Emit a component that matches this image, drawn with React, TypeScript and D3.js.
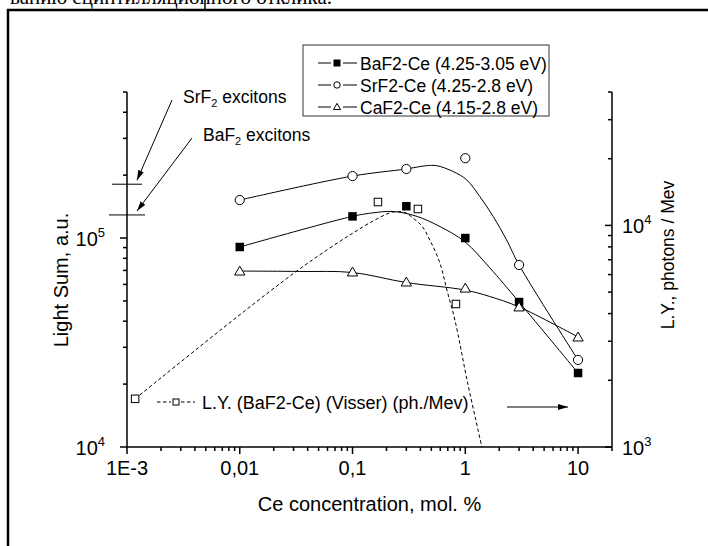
import React from "react";
import * as d3 from "d3";

// measured Ce concentrations, mol. %
const conc = [0.01, 0.1, 0.3, 1, 3, 10];
// light sum, a.u. (left axis)
const baf2Sum = [9.06e4, 1.27e5, 1.42e5, 1.0e5, 4.94e4, 2.26e4];
const srf2Sum = [1.52e5, 1.98e5, 2.14e5, 2.41e5, 7.43e4, 2.61e4];
const caf2Sum = [6.95e4, 6.88e4, 6.16e4, 5.76e4, 4.68e4, 3.36e4];

// smoothed curves drawn through the points
const baf2FitConc = [0.01, 0.1, 0.152, 0.228, 0.372, 0.596, 0.991, 1.65, 3, 10];
const baf2FitSum = [9.06e4, 1.27e5, 1.32e5, 1.34e5, 1.27e5, 1.135e5, 9.6e4, 7.2e4, 4.94e4, 2.26e4];
const srf2FitConc = [0.01, 0.1, 0.297, 0.454, 0.557, 0.782, 1.028, 1.346, 1.766, 2.323, 3, 10];
const srf2FitSum = [1.52e5, 1.98e5, 2.14e5, 2.22e5, 2.22e5, 2.08e5, 1.9e5, 1.58e5, 1.27e5, 9.8e4, 7.43e4, 2.61e4];
const caf2FitConc = [0.01, 0.034, 0.1, 0.297, 0.991, 1.65, 3, 10];
const caf2FitSum = [6.95e4, 6.92e4, 6.84e4, 6.13e4, 5.64e4, 5.25e4, 4.68e4, 3.36e4];

// Visser light yield, photons / MeV (right axis)
const visserConc = [0.00118, 0.168, 0.38, 0.826];
const visserLY = [1650, 12750, 11860, 4420];
const visserFitConc = [0.00118, 0.00944, 0.0321, 0.0593, 0.101, 0.158, 0.228, 0.292, 0.343, 0.412, 0.485, 0.595, 0.687, 0.809, 1.055, 1.403];
const visserFitLY = [1650, 3860, 6230, 7750, 9240, 10580, 11490, 11430, 10800, 9940, 8590, 6765, 5110, 3740, 1920, 1000];

// exciton light sums marked on the left axis
const excitonNames = ["SrF", "BaF"];
const excitonSum = [1.81e5, 1.29e5];

const xTickLabels = ["1E-3", "0,01", "0,1", "1", "10"];
const legendNames = ["BaF2-Ce (4.25-3.05 eV)", "SrF2-Ce (4.25-2.8 eV)", "CaF2-Ce (4.15-2.8 eV)"];

const FONT = "'Liberation Sans', Arial, sans-serif";

const x = d3.scaleLog().domain([0.001, 20]).range([127, 612]);
const yL = d3.scaleLog().domain([1e4, 5e5]).range([447, 92]);
const yR = d3.scaleLog().domain([1e3, 4e4]).range([447, 92]);

const isDecade = (v: number) => Math.abs(Math.log10(v) - Math.round(Math.log10(v))) < 1e-6;

const fitLine = (ys: any) =>
  d3
    .line<[number, number]>()
    .x((d) => x(d[0]))
    .y((d) => ys(d[1]))
    .curve(d3.curveCatmullRom.alpha(0.5));

const zip = (a: number[], b: number[]) => a.map((v, i) => [v, b[i]] as [number, number]);

const triPath = d3.symbol(d3.symbolTriangle, 46)();
const triSmall = d3.symbol(d3.symbolTriangle, 22)();

const Marker = ({ kind, cx, cy, small }: { kind: string; cx: number; cy: number; small?: boolean }) => {
  const s = small ? 7 : 8.5;
  if (kind === "fsq")
    return <rect x={cx - s / 2} y={cy - s / 2} width={s} height={s} fill="#000" />;
  if (kind === "osq")
    return <rect x={cx - s / 2 + 0.5} y={cy - s / 2 + 0.5} width={s - 1} height={s - 1} fill="#fff" stroke="#000" strokeWidth={1} />;
  if (kind === "circ")
    return <circle cx={cx} cy={cy} r={small ? 3.2 : 4.6} fill="#fff" stroke="#000" strokeWidth={1} />;
  return <path d={(small ? triSmall : triPath) as string} transform={`translate(${cx},${cy + (small ? 0.5 : 1)})`} fill="#fff" stroke="#000" strokeWidth={1} />;
};

const Pow = ({ px, py, base, exp, anchor }: { px: number; py: number; base: string; exp: string; anchor: string }) => (
  <text x={px} y={py} textAnchor={anchor} fontSize={20} fontFamily={FONT}>
    {base}
    <tspan fontSize={13} dy={-9}>{exp}</tspan>
  </text>
);

export default function App() {
  const series = [
    { kind: "fsq", vals: baf2Sum, fit: zip(baf2FitConc, baf2FitSum) },
    { kind: "circ", vals: srf2Sum, fit: zip(srf2FitConc, srf2FitSum) },
    { kind: "tri", vals: caf2Sum, fit: zip(caf2FitConc, caf2FitSum) },
  ];
  const x0 = x.range()[0], x1 = x.range()[1];
  const yb = yL.range()[0], yt = yL.range()[1];
  const xTicks = x.ticks().filter((t) => t <= 20);
  const lTicks = yL.ticks();
  const rTicks = yR.ticks();
  const xMajors = xTicks.filter(isDecade);

  return (
    <svg width={708} height={546} style={{ position: "absolute", left: 0, top: 0, background: "#fff" }}>
      <defs>
        <marker id="ah" viewBox="0 0 10 6" refX={10} refY={3} markerWidth={10} markerHeight={6} markerUnits="userSpaceOnUse" orient="auto">
          <path d="M0,0 L10,3 L0,6 Z" fill="#000" />
        </marker>
      </defs>
      <rect width={708} height={546} fill="#fff" />

      {/* page fragment above the figure, cropped as in the source */}
      <text x={10} y={4} fontFamily="'Liberation Serif', 'Times New Roman', serif" fontSize={21}>
        ванию сцинтилляционного отклика.
      </text>
      <line x1={205} y1={0} x2={205} y2={10} stroke="#000" strokeWidth={1.5} />
      <path d="M8,546 L8,10 L708,10" fill="none" stroke="#000" strokeWidth={2.5} />

      {/* fitted / guide curves */}
      {series.map((s, i) => (
        <path key={"f" + i} d={fitLine(yL)(s.fit) as string} fill="none" stroke="#000" strokeWidth={1} />
      ))}
      <path d={fitLine(yR)(zip(visserFitConc, visserFitLY)) as string} fill="none" stroke="#000" strokeWidth={1} strokeDasharray="3.5,2.5" />

      {/* markers */}
      {series.map((s, i) =>
        s.vals.map((v, j) => <Marker key={`m${i}-${j}`} kind={s.kind} cx={x(conc[j])} cy={yL(v)} />)
      )}
      {visserConc.map((c, j) => (
        <Marker key={"v" + j} kind="osq" cx={x(c)} cy={yR(visserLY[j])} />
      ))}

      {/* exciton levels */}
      {excitonSum.map((v, i) => {
        const yy = yL(v);
        const half = i === 0 ? 15 : 18;
        const tx = i === 0 ? 183 : 203;
        const ty = i === 0 ? 103 : 141;
        return (
          <g key={"ex" + i}>
            <line x1={x0 - half} x2={x0 + half} y1={yy} y2={yy} stroke="#000" strokeWidth={1} />
            <line x1={tx - 11} y1={ty - 3} x2={x0 + 10} y2={yy - 4} stroke="#000" strokeWidth={1} markerEnd="url(#ah)" />
            <text x={tx} y={ty} fontFamily={FONT} fontSize={17.5}>
              {excitonNames[i]}
              <tspan fontSize={11} dy={4}>2</tspan>
              <tspan dy={-4}> excitons</tspan>
            </text>
          </g>
        );
      })}

      {/* axes */}
      <g stroke="#000" strokeWidth={1.5} fill="none">
        <line x1={x0} x2={x1} y1={yb} y2={yb} />
        <line x1={x0} x2={x0} y1={yb} y2={yt} />
        <line x1={x1} x2={x1} y1={yb} y2={yt} />
        {xTicks.map((t, i) => (
          <line key={"xt" + i} x1={x(t)} x2={x(t)} y1={yb} y2={yb + (isDecade(t) ? 7 : 4)} />
        ))}
        {lTicks.map((t, i) => (
          <line key={"lt" + i} x1={x0} x2={x0 - (isDecade(t) ? 7 : 4)} y1={yL(t)} y2={yL(t)} />
        ))}
        {rTicks.map((t, i) => (
          <line key={"rt" + i} x1={x1} x2={x1 - (isDecade(t) ? 7 : 4)} y1={yR(t)} y2={yR(t)} />
        ))}
      </g>
      {xMajors.map((t, i) => (
        <text key={"xl" + i} x={x(t)} y={475} textAnchor="middle" fontSize={20} fontFamily={FONT}>
          {xTickLabels[i]}
        </text>
      ))}
      {lTicks.filter(isDecade).map((t, i) => (
        <Pow key={"ll" + i} px={105} py={yL(t) + 8} base="10" exp={String(Math.round(Math.log10(t)))} anchor="end" />
      ))}
      {rTicks.filter(isDecade).map((t, i) => (
        <Pow key={"rl" + i} px={622} py={yR(t) + 8} base="10" exp={String(Math.round(Math.log10(t)))} anchor="start" />
      ))}
      <text x={(x0 + x1) / 2} y={511} textAnchor="middle" fontSize={20} fontFamily={FONT}>
        Ce concentration, mol. %
      </text>
      <text transform="translate(68,280) rotate(-90)" textAnchor="middle" fontSize={20} fontFamily={FONT}>
        Light Sum, a.u.
      </text>
      <text transform="translate(674,255) rotate(-90)" textAnchor="middle" fontSize={17.5} fontFamily={FONT}>
        L.Y., photons / Mev
      </text>

      {/* legend */}
      <rect x={303} y={45} width={246} height={71} fill="#fff" stroke="#333" strokeWidth={1} />
      {series.map((s, i) => {
        const ly = 63 + i * 22;
        return (
          <g key={"lg" + i}>
            <line x1={318} x2={357} y1={ly} y2={ly} stroke="#000" strokeWidth={1} />
            <rect x={331} y={ly - 5} width={12} height={10} fill="#fff" />
            <Marker kind={s.kind} cx={337} cy={ly} small />
            <text x={360} y={ly + 6.5} fontSize={17.5} fontFamily={FONT}>
              {legendNames[i]}
            </text>
          </g>
        );
      })}
      <line x1={157} x2={195} y1={402} y2={402} stroke="#000" strokeWidth={1} strokeDasharray="3.5,2.5" />
      <rect x={171} y={397} width={10} height={10} fill="#fff" />
      <Marker kind="osq" cx={176} cy={402} small />
      <text x={202} y={408.5} fontSize={18} fontFamily={FONT}>
        L.Y. (BaF2-Ce) (Visser) (ph./Mev)
      </text>
      <line x1={507} x2={568} y1={407} y2={407} stroke="#000" strokeWidth={1.2} markerEnd="url(#ah)" />
    </svg>
  );
}
